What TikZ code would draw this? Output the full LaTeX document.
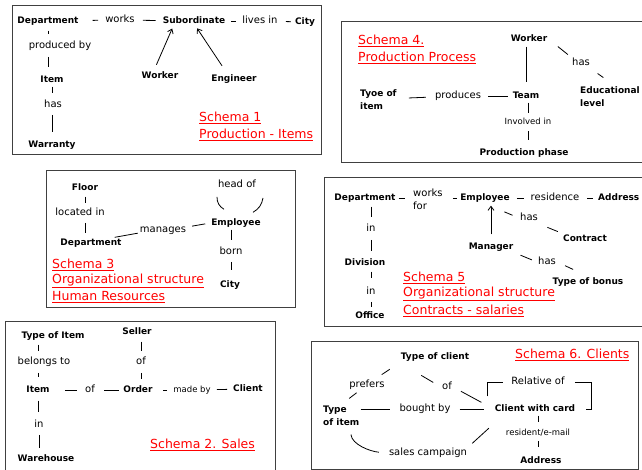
\documentclass[tikz,border=0pt]{standalone}
\usepackage{fontspec}
\setmainfont{DejaVu Sans}
\usetikzlibrary{arrows.meta}

\begin{document}
\begin{tikzpicture}[x=1pt,y=1pt,
  ent/.style={font=\bfseries\fontsize{9}{10.8}\selectfont,inner sep=1pt,text height=7pt,text depth=2pt},
  entm/.style={font=\bfseries\fontsize{9}{13}\selectfont,inner sep=1pt,align=left},
  rel/.style={font=\fontsize{10}{11}\selectfont,inner sep=1pt,text height=7.5pt,text depth=2pt},
  relm/.style={font=\fontsize{10}{13}\selectfont,inner sep=1pt,align=left},
  smallrel/.style={font=\fontsize{8.5}{10}\selectfont,inner sep=1pt,text height=6.5pt,text depth=1.8pt},
  schema/.style={font=\fontsize{12.5}{14}\selectfont,text=red,anchor=west,inner sep=0pt},
  boxframe/.style={draw=black!75,line width=1pt},
  lnk/.style={line width=0.8pt},
  arr/.style={lnk,-{Straight Barb[length=4pt,width=6pt]}}]
\useasboundingbox (0,0) rectangle (642,-470);

\draw[boxframe] (12,-6) rectangle (321,-155);
\node[ent] (dep1) at (48,-21) {Department};
\node[rel] (works1) at (120,-20) {works};
\node[ent] (sub1) at (194,-21) {Subordinate};
\node[rel] (lives1) at (260,-21) {lives in};
\node[ent] (city1) at (305,-22) {City};
\node[rel] (prodby1) at (60,-46) {produced by};
\node[ent] (item1) at (52,-80) {Item};
\node[rel] (has1) at (53,-105) {has};
\node[ent] (warr1) at (52,-145) {Warranty};
\node[ent] (worker1) at (160,-76) {Worker};
\node[ent] (eng1) at (234,-79) {Engineer};
\node[schema] (title1a) at (199,-118) {\underline{Schema 1}};
\node[schema] (title1b) at (199,-135) {\underline{Production - Items}};
\draw[lnk,shorten <=13pt,shorten >=6pt] (dep1) -- (works1);
\draw[lnk,shorten <=7pt,shorten >=6pt] (works1) -- (sub1);
\draw[lnk,shorten <=5pt,shorten >=5pt] (sub1) -- (lives1);
\draw[lnk,shorten <=7pt,shorten >=3pt] (lives1) -- (city1);
\draw[lnk,shorten <=4pt,shorten >=6pt] (dep1.south) -- (dep1.south |- prodby1.north);
\draw[lnk,shorten <=5pt,shorten >=7pt] (dep1.south |- prodby1.south) -- (dep1.south |- item1.north);
\draw[lnk,shorten <=1pt,shorten >=6pt] (item1.south) -- (item1.south |- has1.north);
\draw[lnk,shorten <=4pt,shorten >=7pt] (item1.south |- has1.south) -- (item1.south |- warr1.north);
\draw[arr,shorten <=6pt,shorten >=2pt] ([xshift=-6pt]worker1.north) -- ([xshift=-21pt]sub1.south);
\draw[arr,shorten <=9pt,shorten >=2pt] ([xshift=-7pt]eng1.north) -- ([xshift=2pt]sub1.south);

\draw[boxframe] (341,-22) rectangle (660,-163);
\node[schema] (title4a) at (358,-41) {\underline{Schema 4.}};
\node[schema] (title4b) at (358,-58) {\underline{Production Process}};
\node[ent] (worker4) at (529,-39) {Worker};
\node[ent] (team4) at (526,-96) {Team};
\node[rel] (has4) at (581,-63) {has};
\node[entm,anchor=north west] (edu4) at (579,-85) {Educational\\level};
\node[entm,anchor=north west] (type4) at (359,-88) {Tyoe of\\item};
\node[rel] (prod4) at (458,-96) {produces};
\node[smallrel] (inv4) at (528,-122) {Involved in};
\node[ent] (phase4) at (524,-153) {Production phase};
\draw[lnk,shorten <=2pt,shorten >=8pt] (team4.north |- worker4.south) -- (team4.north);
\draw[lnk,shorten <=12pt,shorten >=4pt] (worker4.east) -- (has4.north west);
\draw[lnk,shorten <=8pt,shorten >=13pt] (has4.south east) -- ([xshift=4pt]edu4.north);
\draw[lnk,shorten <=11pt,shorten >=8pt] (type4) -- (prod4);
\draw[lnk,shorten <=6pt,shorten >=4pt] (prod4) -- (team4);
\draw[lnk,shorten <=1pt,shorten >=4pt] (inv4.north |- team4.south) -- (inv4.north);
\draw[lnk,shorten <=4pt,shorten >=7pt] (inv4.south) -- (inv4.south |- phase4.north);

\draw[boxframe] (46,-171) rectangle (295,-307);
\node[ent] (floor3) at (85,-188) {Floor};
\node[rel] (loc3) at (80,-213) {located in};
\node[ent] (dep3) at (91,-243) {Department};
\node[rel] (man3) at (163,-230) {manages};
\node[ent] (emp3) at (236,-223) {Employee};
\node[rel] (head3) at (237,-185) {head of};
\node[rel] (born3) at (231,-252) {born};
\node[ent] (city3) at (230,-285) {City};
\node[schema] (title3a) at (52,-265) {\underline{Schema 3}};
\node[schema] (title3b) at (52,-281) {\underline{Organizational structure}};
\node[schema] (title3c) at (52,-297) {\underline{Human Resources}};
\draw[lnk,shorten <=3pt,shorten >=4pt] (floor3.south) -- (floor3.south |- loc3.north);
\draw[lnk,shorten <=4pt,shorten >=4pt] (floor3.south |- loc3.south) -- (floor3.south |- dep3.north);
\draw[lnk,shorten >=1pt] ([xshift=-8pt]dep3.north east) -- ([yshift=-3pt]man3.west);
\draw[lnk,shorten <=5pt,shorten >=5pt] ([yshift=3pt]man3.east) -- (emp3.west);
\draw[lnk] ([xshift=-20pt,yshift=-6pt]head3.south) to[bend right=30] ([xshift=-12pt,yshift=8pt]emp3.north);
\draw[lnk] ([xshift=26pt,yshift=-7pt]head3.south) to[bend left=25] ([xshift=17pt,yshift=5pt]emp3.north);
\draw[lnk,shorten <=1pt,shorten >=6pt] (born3.north |- emp3.south) -- (born3.north);
\draw[lnk,shorten <=4pt,shorten >=9pt] (born3.south) -- (born3.south |- city3.north);

\draw[boxframe] (324,-178) rectangle (660,-326);
\node[ent] (dep5) at (365,-198) {Department};
\node[relm,anchor=north west] (wf5) at (412,-188) {works\\for};
\node[ent] (emp5) at (485,-198) {Employee};
\node[rel] (res5) at (555,-198) {residence};
\node[ent,anchor=west] (addr5) at (597,-198) {Address};
\node[ent] (mgr5) at (491,-247) {Manager};
\node[rel] (has5a) at (529,-218) {has};
\node[ent] (contr5) at (585,-239) {Contract};
\node[rel] (has5b) at (547,-262) {has};
\node[ent] (bonus5) at (588,-282) {Type of bonus};
\node[rel] (in5a) at (371,-229) {in};
\node[ent] (div5) at (365,-263) {Division};
\node[rel] (in5b) at (371,-292) {in};
\node[ent] (office5) at (370,-316) {Office};
\node[schema] (title5a) at (403,-278) {\underline{Schema 5}};
\node[schema] (title5b) at (403,-294) {\underline{Organizational structure}};
\node[schema] (title5c) at (403,-311) {\underline{Contracts - salaries}};
\draw[lnk,shorten <=2pt,shorten >=7pt] (dep5.east) -- (dep5.east -| wf5.west);
\draw[lnk,shorten <=9pt,shorten >=2pt] (wf5.east |- emp5.west) -- (emp5.west);
\draw[lnk,shorten <=6pt,shorten >=6pt] (emp5) -- (res5);
\draw[lnk,shorten <=7pt,shorten >=4pt] (res5) -- (addr5);
\draw[arr,shorten <=7pt,shorten >=2pt] (mgr5.north) -- (mgr5.north |- emp5.south);
\draw[lnk,shorten <=21pt,shorten >=7pt] (emp5.south) -- (has5a.west);
\draw[lnk,shorten <=9pt,shorten >=4.5pt] (has5a.south east) -- (contr5.north west);
\draw[lnk,shorten <=6.5pt,shorten >=5.5pt] (mgr5.south east) -- (has5b.west);
\draw[lnk,shorten <=8.8pt,shorten >=16.4pt] (has5b.east) -- (bonus5.north);
\draw[lnk,shorten <=3pt,shorten >=6pt] (in5a.north |- dep5.south) -- (in5a.north);
\draw[lnk,shorten <=5pt,shorten >=6pt] (in5a.south) -- (in5a.south |- div5.north);
\draw[lnk,shorten <=3pt,shorten >=8pt] (in5b.north |- div5.south) -- (in5b.north);
\draw[lnk,shorten <=4pt,shorten >=3pt] (in5b.south) -- (in5b.south |- office5.north);

\draw[boxframe] (5,-321) rectangle (275,-480);
\node[ent] (toi2) at (53,-336) {Type of Item};
\node[rel] (belongs2) at (44,-362) {belongs to};
\node[ent] (item2) at (38,-390) {Item};
\node[rel] (of2) at (90,-390) {of};
\node[ent] (order2) at (138,-390) {Order};
\node[smallrel] (madeby2) at (192,-390) {made by};
\node[ent] (client2) at (248,-389) {Client};
\node[ent] (seller2) at (137,-332) {Seller};
\node[rel] (of2b) at (141,-362) {of};
\node[rel] (in2) at (39,-425) {in};
\node[ent] (wareh2) at (46,-459) {Warehouse};
\node[schema] (title2) at (150,-445) {\underline{Schema 2. Sales}};
\draw[lnk,shorten <=3pt,shorten >=5pt] (item2.north |- toi2.south) -- (item2.north |- belongs2.north);
\draw[lnk,shorten <=5pt,shorten >=7pt] (item2.north |- belongs2.south) -- (item2.north);
\draw[lnk,shorten <=14pt,shorten >=7pt] (item2) -- (of2);
\draw[lnk,shorten <=8pt,shorten >=3pt] (of2) -- (order2);
\draw[lnk,shorten <=9.5pt,shorten >=5pt] (order2) -- (madeby2);
\draw[lnk,shorten <=5pt,shorten >=5pt] (madeby2) -- (client2);
\draw[lnk,shorten <=4pt,shorten >=5pt] (of2b.north |- seller2.south) -- (of2b.north);
\draw[lnk,shorten <=5pt,shorten >=5pt] (of2b.south) -- (of2b.south |- order2.north);
\draw[lnk,shorten <=5pt,shorten >=7pt] (item2.south) -- (item2.south |- in2.north);
\draw[lnk,shorten <=4pt,shorten >=5pt] (in2.south) -- (in2.south |- wareh2.north);

\draw[boxframe] (311,-341) rectangle (638,-469);
\node[schema] (title6) at (515,-355) {\underline{Schema 6. Clients}};
\node[ent] (toc6) at (435,-357) {Type of client};
\node[rel] (prefers6) at (367,-385) {prefers};
\node[entm,anchor=north west] (toi6) at (322,-404.5) {Type\\of item};
\node[rel] (of6) at (447,-387) {of};
\node[ent] (cwc6) at (535,-409) {Client with card};
\node[rel] (bought6) at (425,-409) {bought by};
\node[rel] (relof6) at (538,-382) {Relative of};
\node[smallrel] (resid6) at (538,-433) {resident/e-mail};
\node[ent] (addr6) at (541,-461) {Address};
\node[rel] (sales6) at (428,-453) {sales campaign};
\draw[lnk,shorten <=12pt,shorten >=8pt] (toc6.south west) -- ([xshift=8pt]prefers6.north);
\draw[lnk,shorten <=3pt,shorten >=10pt] ([xshift=-8pt]prefers6.south) -- (toi6.north);
\draw[lnk,shorten <=25pt,shorten >=9pt] (toc6.south west) -- (of6.west);
\draw[lnk,shorten <=9pt,shorten >=14pt] (of6.east) -- (cwc6.west);
\draw[lnk,shorten >=8pt] (toi6.east |- bought6.west) -- (bought6.west);
\draw[lnk,shorten <=8pt,shorten >=10pt] (bought6) -- (cwc6);
\draw[lnk] ([xshift=-6.5pt,yshift=7pt]cwc6.north west) |- ([xshift=-7pt]relof6.west);
\draw[lnk] ([xshift=9pt]relof6.east) -| ([xshift=15pt]cwc6.east) -- ([xshift=10pt]cwc6.east);
\draw[lnk,shorten <=1pt,shorten >=6pt] (resid6.north |- cwc6.south) -- (resid6.north);
\draw[lnk,shorten <=3pt,shorten >=8pt] (resid6.south) -- (resid6.south |- addr6.north);
\draw[lnk,shorten <=8pt,shorten >=9pt] ([xshift=9pt]toi6.south) to[out=-85,in=175] (sales6.west);
\draw[lnk,shorten <=5.5pt,shorten >=20pt] (sales6.north east) -- ([xshift=10pt]cwc6.south west);
\end{tikzpicture}
\end{document}
